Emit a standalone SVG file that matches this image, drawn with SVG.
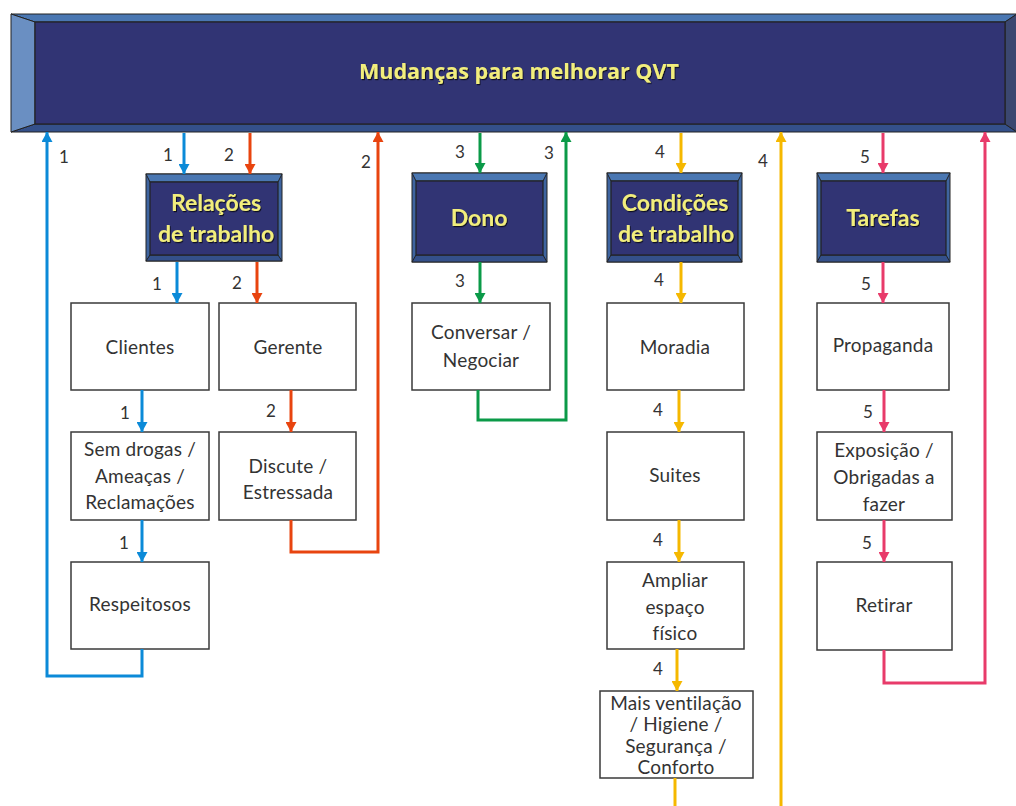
<svg xmlns="http://www.w3.org/2000/svg" width="1016" height="806" viewBox="0 0 1016 806">
  <defs>
    <style>
      .box { fill: #ffffff; stroke: #3a3a3a; stroke-width: 1.5; }
      .txt { font-family: Lato, "Liberation Sans", sans-serif; font-size: 19px; letter-spacing: 0.2px; fill: #333333; text-anchor: middle; }
      .num { font-family: Lato, "Liberation Sans", sans-serif; font-size: 17px; fill: #333333; text-anchor: middle; }
      .head { font-family: Lato, "Liberation Sans", sans-serif; font-size: 23px; font-weight: bold; fill: #f2ee7c; text-anchor: middle; }
      .title { font-family: "Open Sans", Lato, "Liberation Sans", sans-serif; font-size: 21.5px; font-weight: bold; fill: #f2ee7c; text-anchor: middle; }
      .face { fill: #313474; stroke: #222222; stroke-width: 1.2; }
      .bev-t { fill: #4a77b2; stroke: #222222; stroke-width: 1; }
      .bev-s { fill: #3e64a0; stroke: #222222; stroke-width: 1; }
      .bev-b { fill: #34508a; stroke: #222222; stroke-width: 1; }
      .c1 { stroke: #0b8ad8; }
      .c2 { stroke: #e8440f; }
      .c3 { stroke: #0b9a48; }
      .c4 { stroke: #f5b800; }
      .c5 { stroke: #e83b6a; }
      #connectors path { fill: none; stroke-width: 3; }
    </style>
    <filter id="shadow" x="-5%" y="-20%" width="110%" height="140%">
      <feDropShadow dx="1" dy="1.2" stdDeviation="0.6" flood-color="#000000" flood-opacity="0.7"/>
    </filter>
    <marker id="a1" markerUnits="userSpaceOnUse" markerWidth="11" markerHeight="11" refX="10" refY="5.5" orient="auto"><path d="M0,0 L10,5.5 L0,11 z" fill="#0b8ad8"/></marker>
    <marker id="a2" markerUnits="userSpaceOnUse" markerWidth="11" markerHeight="11" refX="10" refY="5.5" orient="auto"><path d="M0,0 L10,5.5 L0,11 z" fill="#e8440f"/></marker>
    <marker id="a3" markerUnits="userSpaceOnUse" markerWidth="11" markerHeight="11" refX="10" refY="5.5" orient="auto"><path d="M0,0 L10,5.5 L0,11 z" fill="#0b9a48"/></marker>
    <marker id="a4" markerUnits="userSpaceOnUse" markerWidth="11" markerHeight="11" refX="10" refY="5.5" orient="auto"><path d="M0,0 L10,5.5 L0,11 z" fill="#f5b800"/></marker>
    <marker id="a5" markerUnits="userSpaceOnUse" markerWidth="11" markerHeight="11" refX="10" refY="5.5" orient="auto"><path d="M0,0 L10,5.5 L0,11 z" fill="#e83b6a"/></marker>
  </defs>

  <rect width="1016" height="806" fill="#ffffff"/>

  <!-- Banner -->
  <g id="banner">
    <polygon points="11,14 1017,14 1005,22 35,22" fill="#4a77b2" stroke="#222" stroke-width="1"/>
    <polygon points="11,132 1017,132 1005,124 35,124" fill="#34508a" stroke="#222" stroke-width="1"/>
    <polygon points="11,14 35,22 35,124 11,132" fill="#6a8fc2" stroke="#222" stroke-width="1"/>
    <polygon points="1017,14 1005,22 1005,124 1017,132" fill="#3b4770" stroke="#222" stroke-width="1"/>
    <rect x="35" y="22" width="970" height="102" class="face"/>
    <text x="519" y="79" class="title" filter="url(#shadow)">Mudanças para melhorar QVT</text>
  </g>

  <!-- Category nodes -->
  <g id="relacoes">
    <rect x="146" y="174" width="136" height="87" class="bev-s"/>
    <polygon points="146,174 282,174 278,182 150,182" class="bev-t"/>
    <polygon points="146,261 282,261 278,255 150,255" class="bev-b"/>
    <rect x="150" y="182" width="128" height="73" class="face"/>
    <text x="216" y="211" class="head" filter="url(#shadow)">Relações</text>
    <text x="216" y="242" class="head" filter="url(#shadow)">de trabalho</text>
  </g>
  <g id="dono">
    <rect x="412" y="173" width="135" height="89" class="bev-s"/>
    <polygon points="412,173 547,173 543,181 416,181" class="bev-t"/>
    <polygon points="412,262 547,262 543,255 416,255" class="bev-b"/>
    <rect x="416" y="181" width="127" height="74" class="face"/>
    <text x="479" y="226" class="head" filter="url(#shadow)">Dono</text>
  </g>
  <g id="condicoes">
    <rect x="607" y="173" width="135" height="89" class="bev-s"/>
    <polygon points="607,173 742,173 738,181 611,181" class="bev-t"/>
    <polygon points="607,262 742,262 738,255 611,255" class="bev-b"/>
    <rect x="611" y="181" width="127" height="74" class="face"/>
    <text x="675" y="211" class="head" filter="url(#shadow)">Condições</text>
    <text x="676" y="242" class="head" filter="url(#shadow)">de trabalho</text>
  </g>
  <g id="tarefas">
    <rect x="817" y="173" width="133" height="89" class="bev-s"/>
    <polygon points="817,173 950,173 946,181 821,181" class="bev-t"/>
    <polygon points="817,262 950,262 946,255 821,255" class="bev-b"/>
    <rect x="821" y="181" width="125" height="74" class="face"/>
    <text x="883" y="226" class="head" filter="url(#shadow)">Tarefas</text>
  </g>

  <!-- Item nodes -->
  <g id="clientes"><rect x="71" y="303" width="138" height="87" class="box"/><text x="140" y="354" class="txt">Clientes</text></g>
  <g id="gerente"><rect x="219" y="303" width="137" height="87" class="box"/><text x="288" y="354" class="txt">Gerente</text></g>
  <g id="semdrogas"><rect x="71" y="432" width="138" height="88" class="box"/>
    <text x="140" y="456" class="txt">Sem drogas /</text><text x="140" y="483" class="txt">Ameaças /</text><text x="140" y="509" class="txt">Reclamações</text></g>
  <g id="discute"><rect x="219" y="432" width="137" height="88" class="box"/>
    <text x="288" y="473" class="txt">Discute /</text><text x="288" y="499" class="txt">Estressada</text></g>
  <g id="respeitosos"><rect x="71" y="562" width="138" height="87" class="box"/><text x="140" y="611" class="txt">Respeitosos</text></g>
  <g id="conversar"><rect x="412" y="303" width="138" height="87" class="box"/>
    <text x="481" y="339" class="txt">Conversar /</text><text x="481" y="367" class="txt">Negociar</text></g>
  <g id="moradia"><rect x="607" y="303" width="137" height="87" class="box"/><text x="675" y="354" class="txt">Moradia</text></g>
  <g id="suites"><rect x="607" y="432" width="137" height="88" class="box"/><text x="675" y="482" class="txt">Suites</text></g>
  <g id="ampliar"><rect x="607" y="562" width="137" height="87" class="box"/>
    <text x="675" y="587" class="txt">Ampliar</text><text x="675" y="614" class="txt">espaço</text><text x="675" y="640" class="txt">físico</text></g>
  <g id="ventilacao"><rect x="600" y="691" width="153" height="87" class="box"/>
    <text x="676" y="710" class="txt">Mais ventilação</text><text x="676" y="731" class="txt">/ Higiene /</text><text x="676" y="753" class="txt">Segurança /</text><text x="676" y="774" class="txt">Conforto</text></g>
  <g id="propaganda"><rect x="817" y="303" width="132" height="87" class="box"/><text x="883" y="352" class="txt">Propaganda</text></g>
  <g id="exposicao"><rect x="817" y="432" width="135" height="88" class="box"/>
    <text x="884" y="457" class="txt">Exposição /</text><text x="884" y="484" class="txt">Obrigadas a</text><text x="884" y="511" class="txt">fazer</text></g>
  <g id="retirar"><rect x="817" y="562" width="135" height="88" class="box"/><text x="884" y="612" class="txt">Retirar</text></g>

  <!-- Connectors -->
  <g id="connectors">
    <!-- 1: relações de trabalho -->
    <path class="c1" d="M184,133 V174" marker-end="url(#a1)"/>
    <path class="c1" d="M177,262 V303" marker-end="url(#a1)"/>
    <path class="c1" d="M142,390 V432" marker-end="url(#a1)"/>
    <path class="c1" d="M142,520 V562" marker-end="url(#a1)"/>
    <path class="c1" d="M142,649 V676 H47 V132" marker-end="url(#a1)"/>
    <!-- 2 -->
    <path class="c2" d="M250,133 V174" marker-end="url(#a2)"/>
    <path class="c2" d="M257,262 V303" marker-end="url(#a2)"/>
    <path class="c2" d="M291,390 V432" marker-end="url(#a2)"/>
    <path class="c2" d="M291,520 V552 H378 V132" marker-end="url(#a2)"/>
    <!-- 3: dono -->
    <path class="c3" d="M480,133 V173" marker-end="url(#a3)"/>
    <path class="c3" d="M480,262 V303" marker-end="url(#a3)"/>
    <path class="c3" d="M478,390 V420 H566 V132" marker-end="url(#a3)"/>
    <!-- 4: condições de trabalho -->
    <path class="c4" d="M681,133 V173" marker-end="url(#a4)"/>
    <path class="c4" d="M681,262 V303" marker-end="url(#a4)"/>
    <path class="c4" d="M679,390 V432" marker-end="url(#a4)"/>
    <path class="c4" d="M679,520 V562" marker-end="url(#a4)"/>
    <path class="c4" d="M677,649 V691" marker-end="url(#a4)"/>
    <path class="c4" d="M675,778 V808"/>
    <path class="c4" d="M781,808 V132" marker-end="url(#a4)"/>
    <!-- 5: tarefas -->
    <path class="c5" d="M883,133 V173" marker-end="url(#a5)"/>
    <path class="c5" d="M883,262 V303" marker-end="url(#a5)"/>
    <path class="c5" d="M884,390 V432" marker-end="url(#a5)"/>
    <path class="c5" d="M884,520 V562" marker-end="url(#a5)"/>
    <path class="c5" d="M884,650 V683 H985 V132" marker-end="url(#a5)"/>
  </g>

  <!-- Step numbers -->
  <g id="labels">
    <text x="64" y="163" class="num">1</text>
    <text x="168" y="161" class="num">1</text>
    <text x="157" y="290" class="num">1</text>
    <text x="125" y="419" class="num">1</text>
    <text x="124" y="549" class="num">1</text>
    <text x="229" y="161" class="num">2</text>
    <text x="237" y="289" class="num">2</text>
    <text x="271" y="417" class="num">2</text>
    <text x="366" y="168" class="num">2</text>
    <text x="460" y="158" class="num">3</text>
    <text x="460" y="287" class="num">3</text>
    <text x="549" y="159" class="num">3</text>
    <text x="660" y="158" class="num">4</text>
    <text x="659" y="286" class="num">4</text>
    <text x="658" y="416" class="num">4</text>
    <text x="658" y="546" class="num">4</text>
    <text x="658" y="675" class="num">4</text>
    <text x="763" y="167" class="num">4</text>
    <text x="865" y="163" class="num">5</text>
    <text x="866" y="290" class="num">5</text>
    <text x="868" y="418" class="num">5</text>
    <text x="867" y="549" class="num">5</text>
  </g>
</svg>
